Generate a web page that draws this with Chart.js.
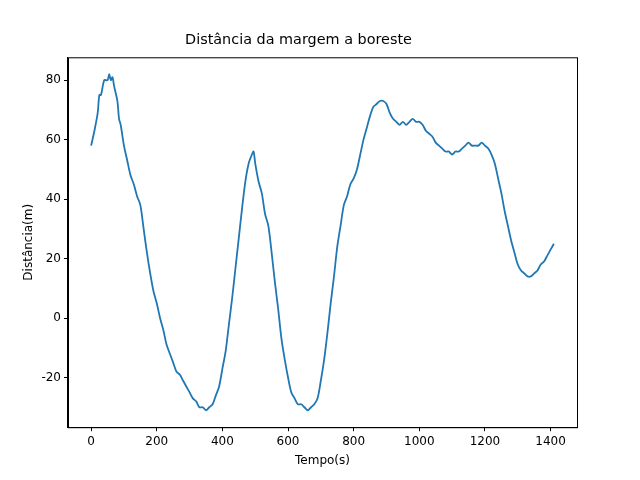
<!DOCTYPE html>
<html><head><meta charset="utf-8">
<script src="https://cdn.jsdelivr.net/npm/chart.js@4"></script>
<style>body{margin:0;background:#fff}</style>
</head><body><canvas id="c" width="640" height="480"></canvas>
<script>
const tempo=[0,10,20,25,30,40,50,55,60,65,70,80,85,90,100,110,120,130,140,150,160,170,180,190,200,210,220,230,240,250,260,270,280,290,300,310,320,330,340,350,360,370,380,390,400,410,420,430,440,450,460,470,480,490,495,500,510,520,530,540,550,560,570,580,590,600,610,620,630,640,650,660,670,680,690,700,710,720,730,740,750,760,770,780,790,800,810,820,830,840,850,860,870,880,890,900,910,920,930,940,950,960,970,980,990,1000,1010,1020,1030,1040,1050,1060,1070,1080,1090,1100,1110,1120,1130,1140,1150,1160,1170,1180,1190,1200,1210,1220,1230,1240,1250,1260,1270,1280,1290,1300,1310,1320,1330,1340,1350,1360,1370,1380,1390,1400,1410];
const distancia=[58,63,69,75,75,80,80,82,80,81,78,73,67,65,58,53,48,45,41,38,30,22,15,9,5,0,-4,-9,-12,-15,-18,-19,-21,-23,-25,-27,-28,-30,-30,-31,-30,-29,-26,-23,-17,-11,-2,7,17,27,37,46,52,55,56,52,46,42,35,31,22,12,3,-7,-14,-20,-25,-27,-29,-29,-30,-31,-30,-29,-27,-21,-14,-5,5,14,24,31,38,41,45,47,50,55,60,64,68,71,72,73,73,72,69,67,66,65,66,65,66,67,66,66,65,63,62,61,59,58,57,56,56,55,56,56,57,58,59,58,58,58,59,58,57,55,52,47,42,36,31,26,22,18,16,15,14,14,15,16,18,19,21,23,25];
const xTicks=[0,200,400,600,800,1000,1200,1400];
const yTicks=[-20,0,20,40,60,80];
const pts=tempo.map((t,i)=>({x:t,y:distancia[i]}));
const frame={id:'frame',afterDraw(c){const a=c.chartArea,g=c.ctx;g.save();g.strokeStyle='#000';g.lineWidth=1;g.strokeRect(a.left+0.5,a.top+0.5,a.right-a.left,a.bottom-a.top);g.restore();}};
const font={family:'DejaVu Sans',size:12};
const axis=(ticks,min,max,title)=>({type:'linear',min,max,
 afterBuildTicks:s=>{s.ticks=ticks.map(v=>({value:v}));},
 grid:{drawOnChartArea:false,color:'#000',tickLength:4},border:{color:'#000'},
 ticks:{color:'#000',font,padding:3,maxRotation:0,autoSkip:false,callback:v=>String(v)},
 title:{display:true,text:title,color:'#000',font,padding:{top:2,bottom:2}}});
new Chart(document.getElementById('c'),{type:'line',
 data:{datasets:[{data:pts,borderColor:'#1f77b4',borderWidth:1.8,pointRadius:0,tension:0.3,fill:false}]},
 plugins:[frame],
 options:{responsive:false,animation:false,devicePixelRatio:1,
  layout:{padding:{left:20,right:63,top:0,bottom:10}},
  plugins:{legend:{display:false},tooltip:{enabled:false},
   title:{display:true,text:'Distância da margem a boreste',color:'#000',font:{family:'DejaVu Sans',size:14.4,weight:'normal'},padding:{top:32,bottom:8}}},
  scales:{x:axis(xTicks,-70.5,1480.5,'Tempo(s)'),y:axis(yTicks,-36.7,87.7,'Distância(m)')}}});
</script></body></html>
